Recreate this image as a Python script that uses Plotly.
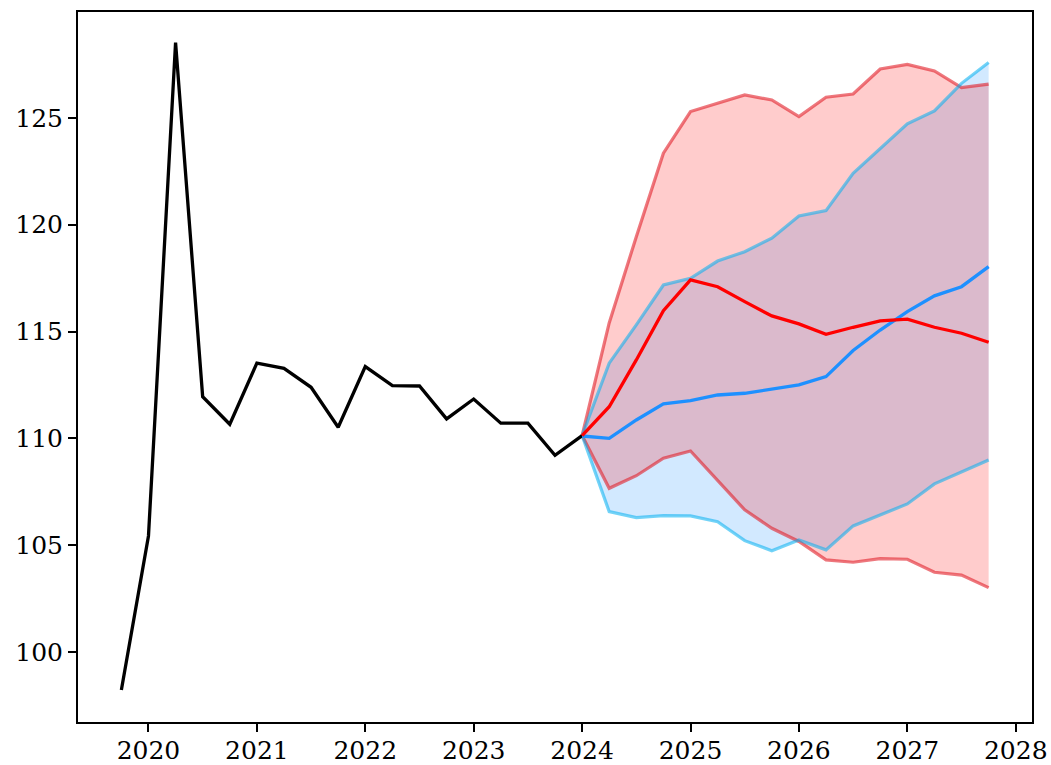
import plotly.graph_objects as go

# Historical quarterly series (decimal years)
hist_x = [2019.75, 2020.0, 2020.25, 2020.5, 2020.75, 2021.0, 2021.25, 2021.5, 2021.75,
          2022.0, 2022.25, 2022.5, 2022.75, 2023.0, 2023.25, 2023.5, 2023.75, 2024.0]
hist_y = [98.22, 105.43, 128.53, 111.95, 110.66, 113.52, 113.28, 112.39, 110.52,
          113.36, 112.47, 112.45, 110.91, 111.84, 110.71, 110.71, 109.21, 110.13]

# Forecast quarters
fc_x = [2024.0, 2024.25, 2024.5, 2024.75, 2025.0, 2025.25, 2025.5, 2025.75,
        2026.0, 2026.25, 2026.5, 2026.75, 2027.0, 2027.25, 2027.5, 2027.75]

red_mean = [110.13, 111.48, 113.67, 115.98, 117.42, 117.10, 116.40, 115.73,
            115.36, 114.87, 115.20, 115.50, 115.58, 115.20, 114.92, 114.50]
red_hi = [110.13, 115.40, 119.44, 123.35, 125.30, 125.69, 126.08, 125.84,
          125.06, 125.97, 126.12, 127.29, 127.51, 127.20, 126.42, 126.58]
red_lo = [110.13, 107.66, 108.25, 109.07, 109.41, 108.05, 106.65, 105.79,
          105.17, 104.31, 104.20, 104.37, 104.34, 103.73, 103.60, 103.01]

blue_mean = [110.11, 110.00, 110.86, 111.61, 111.77, 112.03, 112.11, 112.30,
             112.50, 112.89, 114.11, 115.07, 115.93, 116.67, 117.10, 118.04]
blue_hi = [110.13, 113.52, 115.31, 117.18, 117.49, 118.30, 118.74, 119.37,
           120.41, 120.66, 122.41, 123.58, 124.72, 125.33, 126.62, 127.60]
blue_lo = [110.13, 106.57, 106.29, 106.38, 106.37, 106.10, 105.21, 104.74,
           105.24, 104.78, 105.90, 106.41, 106.93, 107.87, 108.44, 108.99]

x_ticks = [2020, 2021, 2022, 2023, 2024, 2025, 2026, 2027, 2028]
y_ticks = [100, 105, 110, 115, 120, 125]

BLUE_EDGE = "rgba(0,175,240,0.55)"
BLUE_FILL = "rgba(30,144,255,0.2)"
RED_EDGE = "rgba(225,30,40,0.6)"
RED_FILL = "rgba(255,0,0,0.2)"

fig = go.Figure()

# Band fills
fig.add_trace(go.Scatter(x=fc_x, y=blue_lo, mode="lines",
                         line=dict(color="rgba(0,0,0,0)", width=0), showlegend=False))
fig.add_trace(go.Scatter(x=fc_x, y=blue_hi, mode="lines", fill="tonexty",
                         fillcolor=BLUE_FILL,
                         line=dict(color="rgba(0,0,0,0)", width=0), showlegend=False))
fig.add_trace(go.Scatter(x=fc_x, y=red_lo, mode="lines",
                         line=dict(color="rgba(0,0,0,0)", width=0), showlegend=False))
fig.add_trace(go.Scatter(x=fc_x, y=red_hi, mode="lines", fill="tonexty",
                         fillcolor=RED_FILL,
                         line=dict(color="rgba(0,0,0,0)", width=0), showlegend=False))

# Band edges
for ys in (red_lo, red_hi):
    fig.add_trace(go.Scatter(x=fc_x, y=ys, mode="lines",
                             line=dict(color=RED_EDGE, width=3.2), showlegend=False))
for ys in (blue_lo, blue_hi):
    fig.add_trace(go.Scatter(x=fc_x, y=ys, mode="lines",
                             line=dict(color=BLUE_EDGE, width=3.2), showlegend=False))

# Historical
fig.add_trace(go.Scatter(x=hist_x, y=hist_y, mode="lines",
                         line=dict(color="black", width=3.3), showlegend=False))
# Means
fig.add_trace(go.Scatter(x=fc_x, y=blue_mean, mode="lines",
                         line=dict(color="#1e90ff", width=3.3), showlegend=False))
fig.add_trace(go.Scatter(x=fc_x, y=red_mean, mode="lines",
                         line=dict(color="#ff0000", width=3.3), showlegend=False))

axis_common = dict(showgrid=False, zeroline=False, showline=True, linecolor="black",
                   linewidth=2, mirror=True, ticks="outside", ticklen=8, tickwidth=1.5,
                   tickcolor="black", automargin=False,
                   tickfont=dict(family="DejaVu Serif", size=25, color="black"))

fig.update_xaxes(range=[2019.35, 2028.15], tickvals=x_ticks,
                 ticktext=[str(v) for v in x_ticks], ticklabelstandoff=-3, **axis_common)
fig.update_yaxes(range=[96.72, 129.96], tickvals=y_ticks,
                 ticktext=[str(v) for v in y_ticks], **axis_common)

fig.update_layout(template="none", width=1051, height=765,
                  margin=dict(l=78, r=19, t=12, b=43, pad=0),
                  plot_bgcolor="white", paper_bgcolor="white",
                  font=dict(family="DejaVu Serif"), showlegend=False)

fig.write_html("out.html", config={"displayModeBar": False},
               post_script="document.body.style.margin='0';"
                           "document.body.style.overflow='hidden';")
